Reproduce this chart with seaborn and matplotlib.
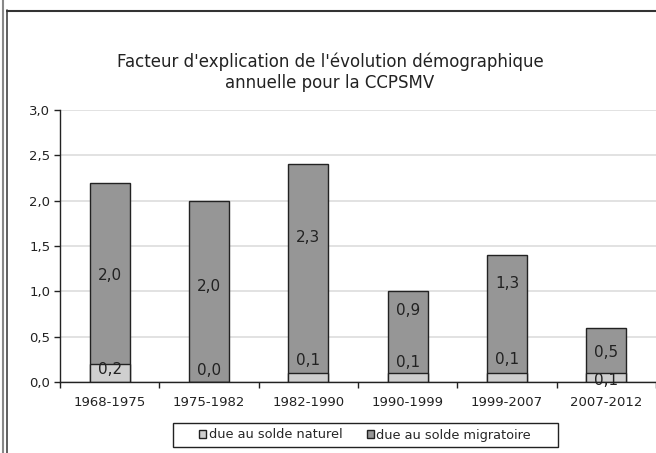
import numpy as np
import pandas as pd
import matplotlib
matplotlib.use('Agg')
import matplotlib.pyplot as plt
from matplotlib.lines import Line2D
from matplotlib.patches import Patch, Rectangle
import seaborn as sns

periods = ['1968-1975', '1975-1982', '1982-1990', '1990-1999', '1999-2007', '2007-2012']
naturel = [0.2, 0.0, 0.1, 0.1, 0.1, 0.1]
migratoire = [2.0, 2.0, 2.3, 0.9, 1.3, 0.5]
# where Excel put the data labels (in axis units)
naturel_label_y = [0.14, 0.13, 0.24, 0.22, 0.25, 0.02]
migratoire_label_y = [1.18, 1.05, 1.59, 0.79, 1.09, 0.33]

df = pd.DataFrame({'periode': periods, 'naturel': naturel, 'migratoire': migratoire})
df['total'] = df['naturel'] + df['migratoire']

sns.set_style('whitegrid')
plt.rcParams['font.family'] = ['DejaVu Sans']

col_nat = '#cfcfcf'
col_mig = '#969696'
ink = '#222222'

fig = plt.figure(figsize=(6.56, 4.53), dpi=100)
ax = fig.add_axes([60 / 656, 1 - 382 / 453, 596 / 656, 272 / 453])

sns.barplot(data=df, x='periode', y='total', color=col_mig, width=0.4,
            edgecolor=ink, linewidth=1.0, saturation=1, ax=ax)
sns.barplot(data=df, x='periode', y='naturel', color=col_nat, width=0.4,
            edgecolor=ink, linewidth=1.0, saturation=1, ax=ax)

for i in range(len(periods)):
    ax.text(i, naturel_label_y[i], f'{naturel[i]:.1f}'.replace('.', ','),
            ha='center', va='center', fontsize=11, color=ink)
    ax.text(i, migratoire_label_y[i], f'{migratoire[i]:.1f}'.replace('.', ','),
            ha='center', va='center', fontsize=11, color=ink)

ax.set_xlim(-0.5, len(periods) - 0.5)
ax.set_ylim(0, 3.0)
ax.set_yticks(np.arange(0, 3.01, 0.5))
ax.set_yticklabels([f'{v:.1f}'.replace('.', ',') for v in np.arange(0, 3.01, 0.5)])
ax.set_xlabel('')
ax.set_ylabel('')

ax.grid(axis='y', color='#dddddd', linewidth=1.2)
ax.grid(axis='x', visible=False)
ax.set_axisbelow(True)
for s in ['top', 'right']:
    ax.spines[s].set_visible(False)
for s in ['left', 'bottom']:
    ax.spines[s].set_visible(True)
    ax.spines[s].set_color(ink)
    ax.spines[s].set_linewidth(1.0)

ax.tick_params(axis='y', length=4, width=1, color=ink, direction='out',
               labelsize=9.5, pad=3, labelcolor=ink, left=True)
ax.set_xticks(np.arange(-0.5, len(periods), 1.0), minor=True)
ax.tick_params(axis='x', which='minor', length=4, width=1, color=ink,
               direction='out', bottom=True)
ax.tick_params(axis='x', which='major', length=0, pad=10, labelsize=9.5,
               labelcolor=ink)

fig.text(330 / 656, 1 - 62 / 453, "Facteur d'explication de l'évolution démographique",
         ha='center', va='center', fontsize=12, color=ink)
fig.text(330 / 656, 1 - 83 / 453, "annuelle pour la CCPSMV",
         ha='center', va='center', fontsize=12, color=ink)

W, H = 656, 453
handles = [Patch(facecolor=col_nat, edgecolor=ink, linewidth=1.0),
           Patch(facecolor=col_mig, edgecolor=ink, linewidth=1.0)]
leg = fig.legend(handles, ['due au solde naturel', 'due au solde migratoire'],
                 loc='center', bbox_to_anchor=(365 / W, 1 - 435 / H), ncol=2,
                 fontsize=9.3, frameon=False,
                 handlelength=0.55, handleheight=0.55, handletextpad=0.2,
                 columnspacing=1.9, borderpad=0.3, borderaxespad=0)
# Excel legend box is wider than the entries
fig.add_artist(Rectangle((173 / W, 1 - 447 / H), 385 / W, 24 / H, fill=False,
                         edgecolor=ink, linewidth=1.0, transform=fig.transFigure))

# outer frame of the Excel chart area
fig.add_artist(Line2D([2.5 / W, 2.5 / W], [0, 1], color='#888888', linewidth=1.5))
fig.add_artist(Line2D([6.5 / W, 6.5 / W], [0, 1 - 10 / H], color='#444444', linewidth=1.2))
fig.add_artist(Line2D([6.5 / W, 1], [1 - 10.5 / H, 1 - 10.5 / H], color='#333333', linewidth=1.5))

fig.savefig('out.png', dpi=100)
